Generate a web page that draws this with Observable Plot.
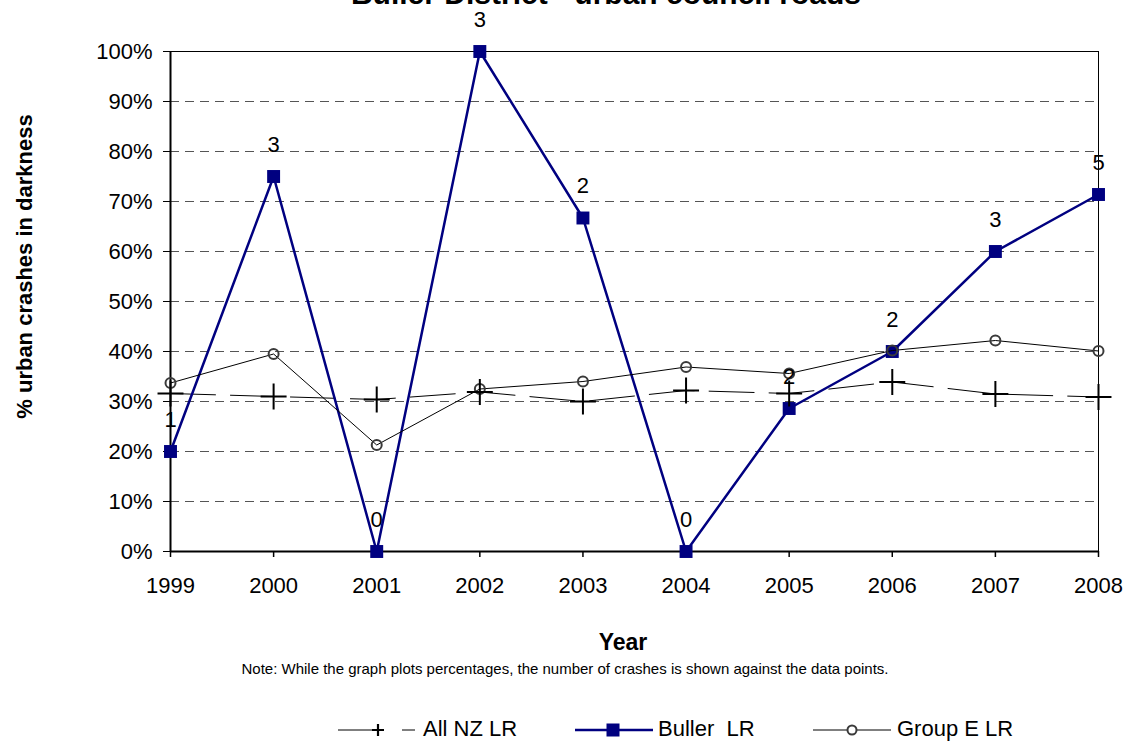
<!DOCTYPE html>
<html><head><meta charset="utf-8">
<script src="https://cdn.jsdelivr.net/npm/d3@7"></script>
<script src="https://cdn.jsdelivr.net/npm/@observablehq/plot@0.6"></script>
<style>
body{margin:0;background:#fff;font-family:"Liberation Sans",Arial,sans-serif;}
#wrap{position:relative;width:1129px;height:746px;overflow:hidden;background:#fff}
.abs{position:absolute;white-space:pre;color:#000;line-height:1}
.c{transform:translateX(-50%)}
</style></head><body>
<div id="wrap">
<div id="chart" style="position:absolute;left:0;top:0"></div>
<div class="abs c" id="title" style="left:606px;top:-21px;font-size:30px;font-weight:bold">Buller District - urban council roads</div>
<div class="abs c" id="xlabel" style="left:623px;top:631px;font-size:23px;font-weight:bold"></div>
<div class="abs c" id="note" style="left:565px;top:661px;font-size:15px"></div>
<div id="legend"></div>
</div>
<script>
const years = [1999, 2000, 2001, 2002, 2003, 2004, 2005, 2006, 2007, 2008];
const bullerPct = [0.20, 0.75, 0.00, 1.00, 0.667, 0.00, 0.286, 0.40, 0.60, 0.714];
const bullerCount = [1, 3, 0, 3, 2, 0, 2, 2, 3, 5];
const groupEPct = [0.337, 0.395, 0.213, 0.325, 0.34, 0.369, 0.356, 0.402, 0.422, 0.401];
const allNZPct = [0.316, 0.31, 0.304, 0.319, 0.30, 0.322, 0.316, 0.339, 0.315, 0.309];
const yTicks = [0, 0.1, 0.2, 0.3, 0.4, 0.5, 0.6, 0.7, 0.8, 0.9, 1.0];
const gridTicks = [0.1, 0.2, 0.3, 0.4, 0.5, 0.6, 0.7, 0.8, 0.9];
const yTitle = "% urban crashes in darkness";
const xTitle = "Year";
const noteText = "Note: While the graph plots percentages, the number of crashes is shown against the data points.";
const seriesNames = ["All NZ LR", "Buller  LR", "Group E LR"];

const buller = years.map((y, i) => ({year: y, pct: bullerPct[i], n: String(bullerCount[i])}));
const groupE = years.map((y, i) => ({year: y, pct: groupEPct[i]}));
const allNZ = years.map((y, i) => ({year: y, pct: allNZPct[i]}));

const chart = Plot.plot({
  width: 1129, height: 600,
  marginLeft: 170, marginRight: 31, marginTop: 51, marginBottom: 49,
  style: {fontFamily: "'Liberation Sans', Arial, sans-serif", fontSize: "22px", color: "#000", background: "transparent", overflow: "visible"},
  x: {domain: [1999, 2008]},
  y: {domain: [0, 1]},
  marks: [
    Plot.gridY(gridTicks, {stroke: "#555", strokeOpacity: 1, strokeWidth: 1.2, strokeDasharray: "9,6"}),
    Plot.frame({stroke: "#000", strokeWidth: 1}),
    Plot.axisX(years, {tickSize: 6, tickPadding: 20, tickFormat: d => String(d), fontSize: 22, label: null, strokeWidth: 1.5}),
    Plot.axisY(yTicks, {tickSize: 7, tickPadding: 11, tickFormat: d => Math.round(d * 100) + "%", fontSize: 22, label: null}),
    Plot.ruleY([0], {stroke: "#000", strokeWidth: 2}),
    Plot.ruleX([1999], {stroke: "#000", strokeWidth: 2}),
    Plot.line(allNZ, {x: "year", y: "pct", stroke: "#000", strokeWidth: 1, strokeDasharray: "45,15"}),
    Plot.line(buller, {x: "year", y: "pct", stroke: "#000080", strokeWidth: 2.5}),
    Plot.dot(buller, {x: "year", y: "pct", symbol: "square", r: 7.3, fill: "#000080", stroke: null}),
    Plot.line(groupE, {x: "year", y: "pct", stroke: "#000", strokeWidth: 1}),
    Plot.dot(groupE, {x: "year", y: "pct", symbol: "circle", r: 5, stroke: "#3a3a3a", strokeWidth: 2, fill: "none"}),
    Plot.dot(allNZ, {x: "year", y: "pct", symbol: "plus", r: 8.4, stroke: "#000", strokeWidth: 2}),
    Plot.text(buller, {x: "year", y: "pct", text: "n", dy: -32, fontSize: 22, fill: "#000"}),
    Plot.text([yTitle], {frameAnchor: "left", textAnchor: "middle", lineAnchor: "middle", dx: -146, dy: -35, rotate: -90, fontWeight: "bold", fontSize: 22, fill: "#000"})
  ]
});
document.getElementById("chart").appendChild(chart);
document.getElementById("xlabel").textContent = xTitle;
document.getElementById("note").textContent = noteText;

// Legend
const lg = document.getElementById("legend");
const cy = 730;
function addSvg(x, w, inner) {
  const s = `<svg style="position:absolute;left:${x}px;top:${cy - 10}px" width="${w}" height="20" xmlns="http://www.w3.org/2000/svg">${inner}</svg>`;
  lg.insertAdjacentHTML("beforeend", s);
}
function addText(x, t) {
  const d = document.createElement("div");
  d.className = "abs";
  d.style.left = x + "px";
  d.style.top = (cy - 12) + "px";
  d.style.fontSize = "22px";
  d.textContent = t;
  lg.appendChild(d);
}
addSvg(336, 82, `<line x1="2" y1="10" x2="37" y2="10" stroke="#000" stroke-width="1"/><path d="M36,10h12M42,4v12" stroke="#000" stroke-width="2.2"/><line x1="66" y1="10" x2="79" y2="10" stroke="#000" stroke-width="1"/>`);
addText(423, seriesNames[0]);
addSvg(575, 80, `<line x1="0" y1="10" x2="78" y2="10" stroke="#000080" stroke-width="2.5"/><rect x="31.5" y="3.5" width="13" height="13" fill="#000080"/>`);
addText(658, seriesNames[1]);
addSvg(813, 80, `<line x1="0" y1="10" x2="78" y2="10" stroke="#000" stroke-width="1"/><circle cx="39" cy="10" r="4.5" fill="#fff" stroke="#3a3a3a" stroke-width="2"/>`);
addText(897, seriesNames[2]);
</script>
</body></html>
